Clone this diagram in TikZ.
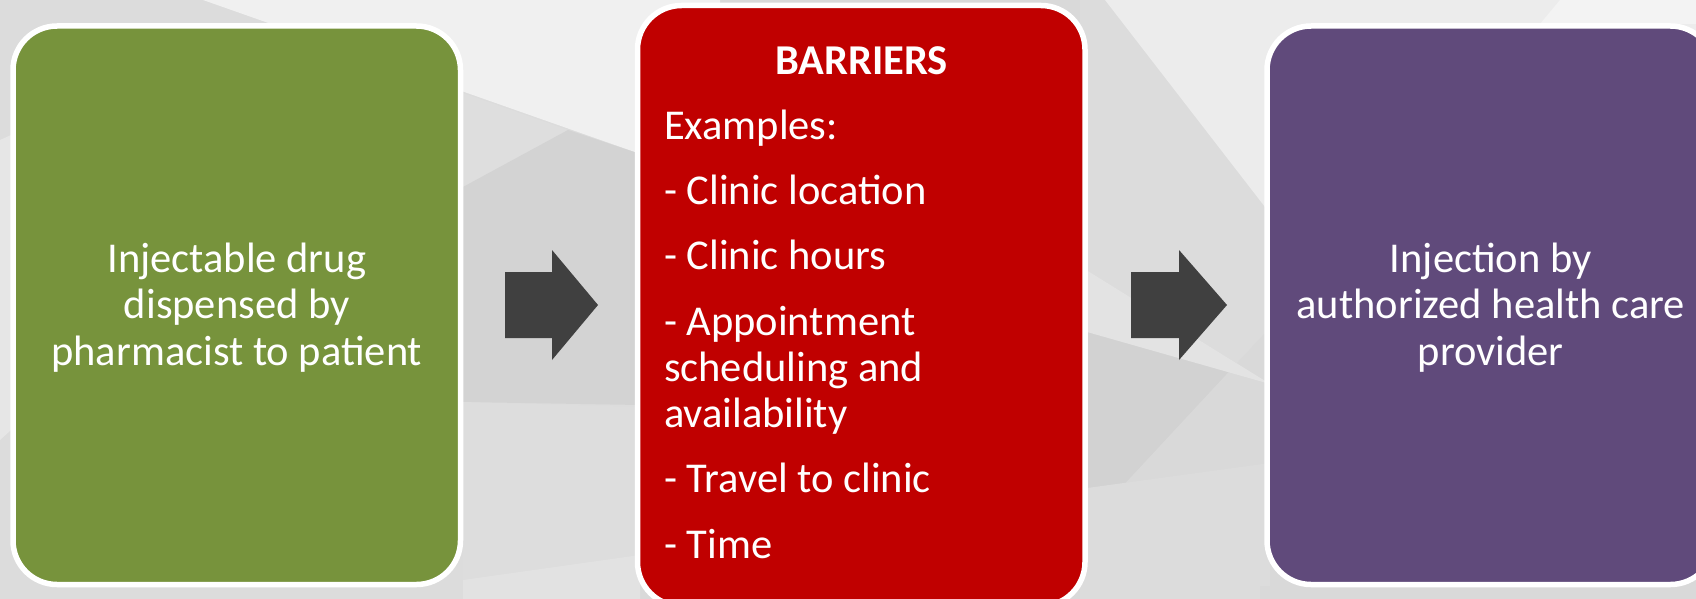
\documentclass[tikz,border=0pt]{standalone}
\usepackage{fontspec}
\setmainfont{Carlito}
\definecolor{boxgreen}{HTML}{77933C}
\definecolor{boxred}{HTML}{C00000}
\definecolor{boxpurple}{HTML}{604A7B}
\definecolor{arrowgray}{HTML}{404040}
\definecolor{bgbase}{HTML}{D9D9D9}
\begin{document}
\begin{tikzpicture}[x=1pt,y=-1pt,
  panel/.style={draw=white, line width=5.5pt, rounded corners=44pt,
    minimum width=447.5pt, inner sep=0pt, outer sep=0pt},
  boxtext/.style={text=white, inner sep=0pt, outer sep=0pt,
    font=\fontsize{42.5pt}{46.5pt}\selectfont},
  blockarrow/.style={fill=arrowgray},
  facet/.style={fill=white!#1!black}]
\useasboundingbox (0,0) rectangle (1696,599);
\clip (0,0) rectangle (1696,599);
% background facets
\fill[bgbase] (0,0) rectangle (1696,599);
\fill[facet=86.3] (0,0) rectangle (640,599);
\fill[facet=94.1] (203,0) -- (720,0) -- (720,182) -- cycle;
\fill[facet=90.2] (0,140) -- (11,135) -- (11,430) -- (0,440) -- cycle;
\fill[facet=87.1] (463,93) -- (568,130) -- (463,187) -- cycle;
\fill[facet=82.7] (463,187) -- (568,130) -- (640,154) -- (640,405) -- (463,402) -- cycle;
\fill[facet=86.7] (463,402) -- (640,407) -- (640,599) -- (463,599) -- cycle;
\fill[facet=88.6] (463,580) -- (640,555) -- (640,599) -- (463,599) -- cycle;
% right gap
\fill[facet=82.4] (1080,0) rectangle (1270,599);
\fill[facet=86.3] (1080,0) -- (1270,0) -- (1270,384) -- (1080,266) -- cycle;
\fill[facet=92.5] (1105,0) -- (1696,0) -- (1696,280) -- (1265,207) -- cycle;
\fill[facet=95.3] (1560,0) -- (1696,0) -- (1696,24) -- (1540,24) -- cycle;
\fill[facet=85.1] (1265,333) -- (1270,333) -- (1270,599) -- (1080,599) -- (1080,532) -- cycle;
\fill[facet=89.0] (1080,266) -- (1270,384) -- (1080,330) -- cycle;
\fill[facet=86.3] (1080,489) -- (1270,463) -- (1270,599) -- (1080,599) -- cycle;
\fill[facet=85.1] (1260,586) rectangle (1696,599);
% panels
\node[panel, fill=boxgreen, minimum height=558.5pt] (green) at (236.75,305.25) {};
\node[panel, fill=boxred, minimum height=600.5pt] (red) at (861.25,305.75) {};
\node[panel, fill=boxpurple, minimum height=558.5pt] (purple) at (1490.75,305.25) {};
% block arrows
\fill[blockarrow] (505,272) -- (552,272) -- (552,250) -- (598,305) -- (552,360) -- (552,338) -- (505,338) -- cycle;
\fill[blockarrow] (1131,272) -- (1179,272) -- (1179,250) -- (1227,305) -- (1179,360) -- (1179,338) -- (1131,338) -- cycle;
% texts
\node[boxtext, anchor=base] (greentext) at (236.75,272)
  {\vtop{\hsize=440pt\parskip=0pt\centering Injectable drug\\dispensed by\\pharmacist to patient\par}};
\node[boxtext, anchor=base west] (redtext) at (664,75)
  {\vtop{\hsize=395pt\parindent=0pt\parskip=18.5pt\raggedright
   \hbox to\hsize{\hss\bfseries BARRIERS\hss}
   Examples:\par
   - Clinic location\par
   - Clinic hours\par
   - Appointment\newline scheduling and\newline availability\par
   - Travel to clinic\par
   - Time\par}};
\node[boxtext, anchor=base] (purpletext) at (1490.75,272)
  {\vtop{\hsize=440pt\parskip=0pt\centering Injection by\\authorized health care\\provider\par}};
\end{tikzpicture}
\end{document}
